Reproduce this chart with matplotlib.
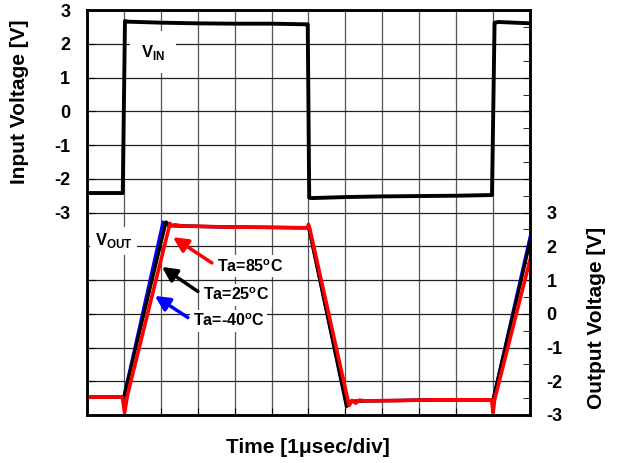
import matplotlib
matplotlib.use('Agg')
from matplotlib import pyplot as plt
from matplotlib.ticker import MultipleLocator

plt.rcParams['font.family'] = ['Liberation Sans', 'DejaVu Sans']
plt.rcParams['font.weight'] = 'bold'
plt.rcParams['mathtext.fontset'] = 'custom'
plt.rcParams['mathtext.rm'] = 'Liberation Sans:bold'
plt.rcParams['mathtext.bf'] = 'Liberation Sans:bold'

# input voltage (left axis), time in divisions of 1 usec
vin_t = [0, 0.97, 1.03, 1.1, 2.0, 3.0, 4.0, 5.0, 5.98, 6.02, 6.1, 7.0, 8.0, 9.0, 10.0, 10.97, 11.04, 11.15, 12.0]
vin_v = [-2.42, -2.42, 2.68, 2.66, 2.63, 2.61, 2.6, 2.6, 2.58, -2.56, -2.57, -2.54, -2.52, -2.51, -2.5, -2.48, 2.63, 2.65, 2.61]

# output voltage (right axis)
red_t = [0, 0.96, 1.02, 1.1, 2.25, 2.3, 2.38, 2.6, 4.0, 5.97, 6.0, 6.04, 7.1, 7.18, 7.28, 7.38, 7.5, 8.5, 9.5, 10.96, 11.0, 11.04, 12.0]
red_v = [-2.47, -2.47, -2.93, -2.4, 2.68, 2.6, 2.64, 2.6, 2.57, 2.55, 2.65, 2.5, -2.72, -2.57, -2.65, -2.56, -2.58, -2.57, -2.55, -2.55, -2.93, -2.55, 1.6]
blk_t = [0, 0.96, 1.0, 2.14, 2.25, 2.6, 4.0, 5.97, 6.0, 7.03, 7.1, 7.5, 8.5, 9.5, 10.96, 11.0, 12.0]
blk_v = [-2.47, -2.47, -2.47, 2.72, 2.62, 2.6, 2.57, 2.55, 2.6, -2.75, -2.6, -2.58, -2.57, -2.55, -2.55, -2.55, 2.13]
blu_t = [0, 0.96, 1.0, 2.06, 2.2, 2.6, 4.0, 5.97, 6.0, 7.04, 7.12, 7.5, 8.5, 9.5, 10.96, 11.0, 12.0]
blu_v = [-2.47, -2.47, -2.47, 2.72, 2.62, 2.6, 2.57, 2.55, 2.6, -2.72, -2.6, -2.58, -2.57, -2.55, -2.55, -2.55, 2.27]

fig = plt.figure(figsize=(6.21, 4.63), dpi=100)
ax = fig.add_axes([0.140, 0.1037, 0.7135, 0.8743])
ax2 = ax.twinx()

ax.plot(vin_t, vin_v, color='black', lw=2.8, zorder=3)
ax.set_xlim(0, 12)
ax.set_ylim(-9, 3)
ax.set_xticks(range(0, 13))
ax.set_xticklabels([])
left_ticks = list(range(-9, 4))
ax.set_yticks(left_ticks)
ax.set_yticklabels([str(v) if v >= -3 else '' for v in left_ticks])
ax.tick_params(axis='y', direction='in', length=6, pad=12, labelsize=13)
ax.tick_params(axis='x', direction='in', length=5)
ax.xaxis.grid(True, color='#555555', lw=0.9)
ax.yaxis.grid(True, color='#222222', lw=0.9)
ax.set_axisbelow(True)

ax2.plot(blu_t, blu_v, color='blue', lw=2.3)
ax2.plot(blk_t, blk_v, color='black', lw=2.4)
ax2.plot(red_t, red_v, color='red', lw=2.6)
ax2.set_ylim(-3, 9)
right_ticks = list(range(-3, 10))
ax2.set_yticks(right_ticks)
ax2.set_yticklabels([str(v) if v <= 3 else '' for v in right_ticks])
ax2.yaxis.set_minor_locator(MultipleLocator(0.5))
ax2.tick_params(axis='y', which='both', direction='in', length=5, pad=12, labelsize=13)

for a in (ax, ax2):
    for s in a.spines.values():
        s.set_linewidth(1.8)

ax.text(1.79, 1.76, r'$\mathbf{V}_{\mathbf{IN}}$', fontsize=12, ha='center', va='center',
        bbox=dict(facecolor='white', edgecolor='none', pad=8), zorder=4)
ax2.text(0.72, 2.16, r'$\mathbf{V}_{\mathbf{OUT}}$', fontsize=12, ha='center', va='center',
         bbox=dict(facecolor='white', edgecolor='none', pad=3), zorder=4)

labels = [r'Ta=85$^{\mathbf{o}}$C', r'Ta=25$^{\mathbf{o}}$C', r'Ta=-40$^{\mathbf{o}}$C']
text_pos = [(3.52, 1.41), (3.14, 0.56), (2.87, -0.21)]
heads = [(2.33, 2.27), (2.03, 1.39), (1.84, 0.53)]
colors = ['red', 'black', 'blue']
for lab, tp, hd, c in zip(labels, text_pos, heads, colors):
    ax2.annotate(lab, xy=hd, xytext=tp, fontsize=11.5, ha='left', va='center',
                 bbox=dict(facecolor='white', edgecolor='none', pad=2),
                 arrowprops=dict(arrowstyle='-|>', color=c, lw=2.5, mutation_scale=22,
                                 relpos=(0, 0.5), shrinkA=2, shrinkB=0),
                 zorder=5)

ax.set_ylabel('Input Voltage [V]', fontsize=15, fontweight='bold')
ax.yaxis.set_label_coords(-0.131, 0.775)
ax2.set_ylabel('Output Voltage [V]', fontsize=15, fontweight='bold', rotation=90)
ax2.yaxis.set_label_coords(1.129, 0.24)
ax.set_xlabel('Time [1μsec/div]', fontsize=15, fontweight='bold')
ax.xaxis.set_label_coords(0.499, -0.057)

plt.savefig('out.png', dpi=100)
